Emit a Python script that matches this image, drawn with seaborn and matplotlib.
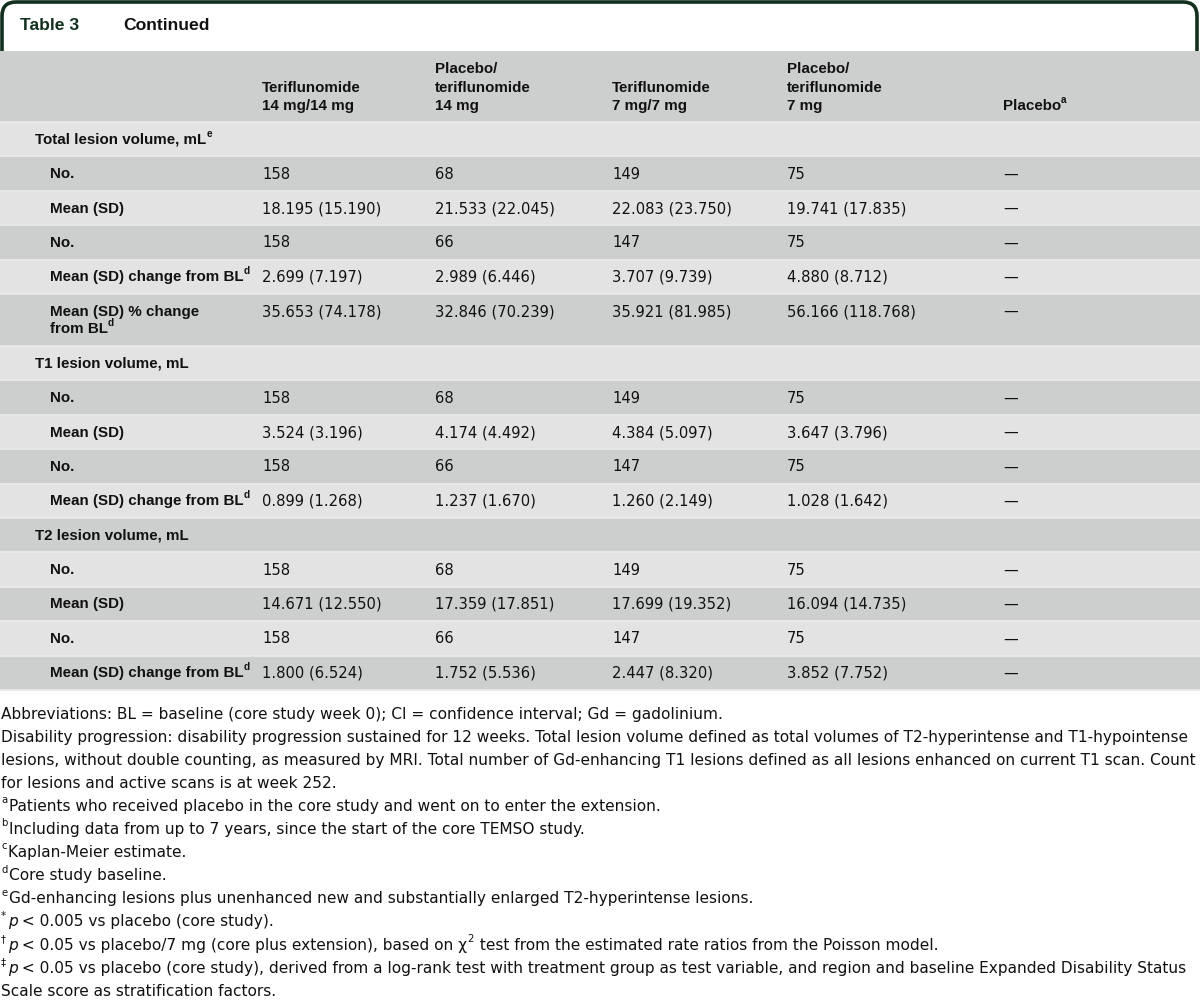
import matplotlib
matplotlib.use("Agg")
import matplotlib.pyplot as plt
from matplotlib.path import Path
from matplotlib.patches import PathPatch
import seaborn as sns

# ---- table content ----
col_heads = [["Teriflunomide", "14 mg/14 mg"],
             ["Placebo/", "teriflunomide", "14 mg"],
             ["Teriflunomide", "7 mg/7 mg"],
             ["Placebo/", "teriflunomide", "7 mg"],
             ["Placebo"]]
col_head_sup = ["", "", "", "", "a"]

sections = ["Total lesion volume, mL", "T1 lesion volume, mL", "T2 lesion volume, mL"]
section_sup = ["e", "", ""]

total_labels = [["No."], ["Mean (SD)"], ["No."], ["Mean (SD) change from BL"],
                ["Mean (SD) % change", "from BL"]]
total_sups = ["", "", "", "d", "d"]
total_values = [
    ["158", "68", "149", "75", "—"],
    ["18.195 (15.190)", "21.533 (22.045)", "22.083 (23.750)", "19.741 (17.835)", "—"],
    ["158", "66", "147", "75", "—"],
    ["2.699 (7.197)", "2.989 (6.446)", "3.707 (9.739)", "4.880 (8.712)", "—"],
    ["35.653 (74.178)", "32.846 (70.239)", "35.921 (81.985)", "56.166 (118.768)", "—"],
]

t1_labels = [["No."], ["Mean (SD)"], ["No."], ["Mean (SD) change from BL"]]
t1_sups = ["", "", "", "d"]
t1_values = [
    ["158", "68", "149", "75", "—"],
    ["3.524 (3.196)", "4.174 (4.492)", "4.384 (5.097)", "3.647 (3.796)", "—"],
    ["158", "66", "147", "75", "—"],
    ["0.899 (1.268)", "1.237 (1.670)", "1.260 (2.149)", "1.028 (1.642)", "—"],
]

t2_labels = [["No."], ["Mean (SD)"], ["No."], ["Mean (SD) change from BL"]]
t2_sups = ["", "", "", "d"]
t2_values = [
    ["158", "68", "149", "75", "—"],
    ["14.671 (12.550)", "17.359 (17.851)", "17.699 (19.352)", "16.094 (14.735)", "—"],
    ["158", "66", "147", "75", "—"],
    ["1.800 (6.524)", "1.752 (5.536)", "2.447 (8.320)", "3.852 (7.752)", "—"],
]

footnotes = [
    [("Abbreviations: BL = baseline (core study week 0); CI = confidence interval; Gd = gadolinium.", "n")],
    [("Disability progression: disability progression sustained for 12 weeks. Total lesion volume defined as total volumes of T2-hyperintense and T1-hypointense", "n")],
    [("lesions, without double counting, as measured by MRI. Total number of Gd-enhancing T1 lesions defined as all lesions enhanced on current T1 scan. Count", "n")],
    [("for lesions and active scans is at week 252.", "n")],
    [("a", "sup"), ("Patients who received placebo in the core study and went on to enter the extension.", "n")],
    [("b", "sup"), ("Including data from up to 7 years, since the start of the core TEMSO study.", "n")],
    [("c", "sup"), ("Kaplan-Meier estimate.", "n")],
    [("d", "sup"), ("Core study baseline.", "n")],
    [("e", "sup"), ("Gd-enhancing lesions plus unenhanced new and substantially enlarged T2-hyperintense lesions.", "n")],
    [("*", "sup"), ("p", "i"), (" < 0.005 vs placebo (core study).", "n")],
    [("†", "sup"), ("p", "i"), (" < 0.05 vs placebo/7 mg (core plus extension), based on χ", "n"), ("2", "sup"),
     (" test from the estimated rate ratios from the Poisson model.", "n")],
    [("‡", "sup"), ("p", "i"), (" < 0.05 vs placebo (core study), derived from a log-rank test with treatment group as test variable, and region and baseline Expanded Disability Status", "n")],
    [("Scale score as stratification factors.", "n")],
]

# ---- style ----
sns.set_theme(style="white")
plt.rcParams['font.family'] = ['Liberation Sans', 'DejaVu Sans']

LABEL_FONT = ['Liberation Sans', 'DejaVu Sans']
VALUE_FONT = ['DejaVu Sans']
SIZE = 10.6
LSIZE = 10.9
DARK = "#cdcfce"
LIGHT = "#e3e3e4"
GREEN = "#11301d"
INK = "#111111"

col_x = [262, 435, 612, 787, 1003]

fig = plt.figure(figsize=(12, 10), dpi=100)
ax = fig.add_axes([0, 0, 1, 1])
ax.set_xlim(0, 1200)
ax.set_ylim(1000, 0)
ax.axis("off")
renderer = fig.canvas.get_renderer()


def runs(x, y, parts, size, family, weight="normal", color=INK):
    px = size * 100 / 72
    for text, kind in parts:
        if kind == "sup":
            t = ax.text(x, y - px * 0.4, text, fontsize=size * 0.66, family=family,
                        weight=weight, color=color, va="center", ha="left")
        else:
            t = ax.text(x, y, text, fontsize=size, family=family, weight=weight, color=color,
                        style="italic" if kind == "i" else "normal", va="center", ha="left")
        x += t.get_window_extent(renderer).width + (1.5 if kind == "sup" else 0)
    return x


# title tab
verts = [(2, 53), (2, 16), (2, 2), (16, 2), (1183, 2), (1197, 2), (1197, 16), (1197, 53)]
codes = [Path.MOVETO, Path.LINETO, Path.CURVE3, Path.CURVE3, Path.LINETO,
         Path.CURVE3, Path.CURVE3, Path.LINETO]
ax.add_patch(PathPatch(Path(verts, codes), facecolor="none", edgecolor=GREEN, lw=2.6))
ax.text(20, 25, "Table 3", fontsize=12.6, weight="bold", color=GREEN, family=LABEL_FONT, va="center")
ax.text(123, 25, "Continued", fontsize=12.6, weight="bold", color=INK, family=LABEL_FONT, va="center")

# header band
ax.axhspan(51, 122, color=DARK, lw=0)
line_gap = 18.5
for x, lines, sup in zip(col_x, col_heads, col_head_sup):
    n = len(lines)
    for i, line in enumerate(lines):
        y = 106 - (n - 1 - i) * line_gap
        parts = [(line, "n")]
        if i == n - 1 and sup:
            parts.append((sup, "sup"))
        runs(x, y, parts, LSIZE, LABEL_FONT, weight="bold")

# body rows
row_h = 34.4
rows = []
for sec, ssup, labels, sups, values in zip(
        sections, section_sup,
        [total_labels, t1_labels, t2_labels],
        [total_sups, t1_sups, t2_sups],
        [total_values, t1_values, t2_values]):
    rows.append(("section", [sec], ssup, None))
    for lab, sp, vals in zip(labels, sups, values):
        rows.append(("item", lab, sp, vals))

y0 = 122
for i, (kind, lab, sp, vals) in enumerate(rows):
    h = row_h if len(lab) == 1 else 52
    ax.axhspan(y0, y0 + h, color=LIGHT if i % 2 == 0 else DARK, lw=0)
    ty = y0 + row_h / 2 + 0.5
    lx = 35 if kind == "section" else 50
    for j, line in enumerate(lab):
        parts = [(line, "n")]
        if j == len(lab) - 1 and sp:
            parts.append((sp, "sup"))
        runs(lx, ty + j * 17.5, parts, LSIZE, LABEL_FONT, weight="bold")
    if vals is not None:
        for x, v in zip(col_x, vals):
            ax.text(x, ty, v, fontsize=SIZE, family=VALUE_FONT, color=INK, va="center", ha="left")
    ax.axhline(y0, color="#e9e9ea", lw=1.3)
    y0 += h
ax.axhline(y0, color="#e9e9ea", lw=1.3)

# footnotes, sized so the longest full line fills the width
widest = 0
for parts in footnotes[1:3]:
    probe = ax.text(0, 0, parts[0][0], fontsize=10, family=VALUE_FONT)
    widest = max(widest, probe.get_window_extent(renderer).width)
    probe.remove()
fsize = 10 * 1194 / widest
fy = 714
for parts in footnotes:
    runs(1, fy, parts, fsize, VALUE_FONT)
    fy += 23.1

fig.savefig("out.png", dpi=100)
